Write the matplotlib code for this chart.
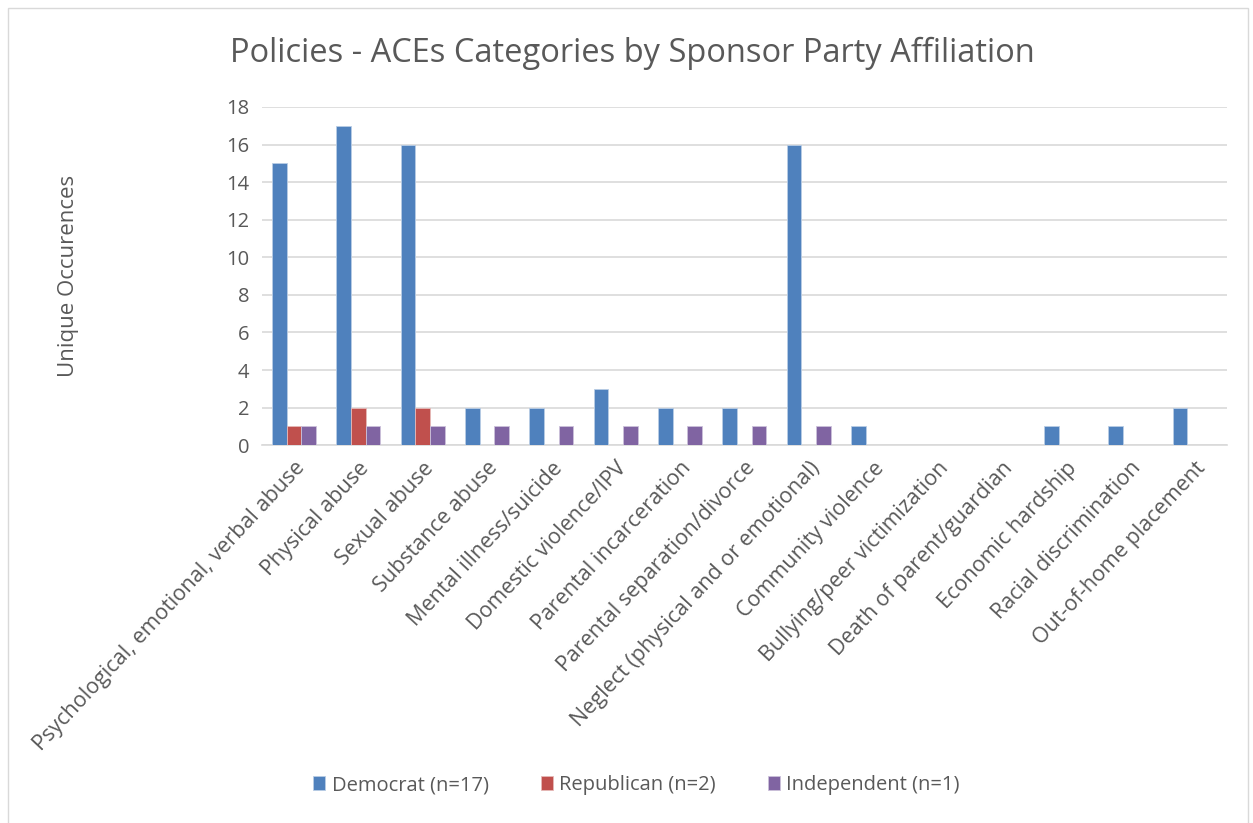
import matplotlib.pyplot as plt
import numpy as np
from matplotlib.patches import Rectangle

categories = ['Psychological, emotional, verbal abuse', 'Physical abuse', 'Sexual abuse',
              'Substance abuse', 'Mental illness/suicide', 'Domestic violence/IPV',
              'Parental incarceration', 'Parental separation/divorce',
              'Neglect (physical and or emotional)', 'Community violence',
              'Bullying/peer victimization', 'Death of parent/guardian',
              'Economic hardship', 'Racial discrimination', 'Out-of-home placement']
democrat = [15, 17, 16, 2, 2, 3, 2, 2, 16, 1, 0, 0, 1, 1, 2]
republican = [1, 2, 2, 0, 0, 0, 0, 0, 0, 0, 0, 0, 0, 0, 0]
independent = [1, 1, 1, 1, 1, 1, 1, 1, 1, 0, 0, 0, 0, 0, 0]

plt.rcParams['font.family'] = ['Open Sans', 'DejaVu Sans']
grey = '#595959'

fig = plt.figure(figsize=(12.53, 8.23), dpi=100)
ax = fig.add_axes([0.209, 0.459, 0.770, 0.411])
fig.patches.append(Rectangle((0.006, -0.01), 0.99, 1.0, transform=fig.transFigure,
                             fill=False, edgecolor='#d9d9d9', linewidth=1))

x = np.arange(len(categories))
w = 0.227
ax.bar(x - w, democrat, w, color='#4F81BD', edgecolor='#B9CDE5', linewidth=0.6, label='Democrat (n=17)', zorder=3)
ax.bar(x, republican, w, color='#C0504D', edgecolor='#E6B9B8', linewidth=0.6, label='Republican (n=2)', zorder=3)
ax.bar(x + w, independent, w, color='#8064A2', edgecolor='#CCC1DA', linewidth=0.6, label='Independent (n=1)', zorder=3)

ax.set_xlim(-0.5, len(categories) - 0.5)
ax.set_ylim(0, 18)
ax.set_yticks(range(0, 19, 2))
ax.grid(axis='y', color='#d9d9d9', linewidth=1.2, zorder=0)
for s in ['top', 'right', 'left']:
    ax.spines[s].set_visible(False)
ax.spines['bottom'].set_color('#d9d9d9')
ax.spines['bottom'].set_linewidth(1.2)
ax.tick_params(length=0, labelsize=14.5, colors=grey, pad=9)
ax.set_xticks(x)
ax.set_xticklabels(categories, rotation=47, ha='right', rotation_mode='anchor', fontsize=15.5)

ax.set_ylabel('Unique Occurences', fontsize=16, color=grey, labelpad=106)
fig.text(0.505, 0.935, 'Policies - ACEs Categories by Sponsor Party Affiliation',
         ha='center', va='center', fontsize=23.5, color=grey)
fig.legend(loc='center', bbox_to_anchor=(0.508, 0.046), ncol=3, frameon=False,
           fontsize=14.5, labelcolor=grey, handlelength=0.6, handleheight=0.7,
           columnspacing=2.6, handletextpad=0.3)

fig.savefig('out.png', dpi=100)
